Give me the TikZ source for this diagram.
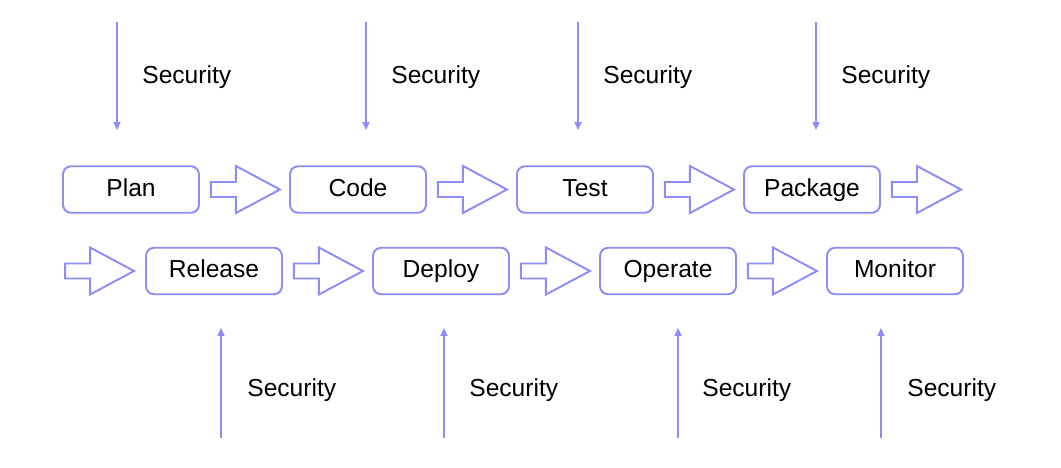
\documentclass[tikz,border=0pt]{standalone}
\usepackage{fontspec}
\setmainfont{Liberation Sans}
\usetikzlibrary{calc,arrows.meta}
\definecolor{lav}{RGB}{140,140,250}
\tikzset{
	stage/.style={draw=lav,line width=1.1pt,rounded corners=4.6pt,
		minimum width=2.72cm,minimum height=0.93cm,inner sep=0pt,
		text height=10.8pt,text depth=3pt,
		font=\fontsize{14}{17}\selectfont},
	flow/.style={draw=lav,line width=1.1pt,fill=white},
	sec/.style={draw=lav,line width=0.9pt,-{Triangle[length=4.5pt,width=4pt]}},
	seclabel/.style={anchor=west,inner sep=0pt,font=\fontsize{14}{17}\selectfont}
}
\begin{document}
\begin{tikzpicture}[x=0.02cm,y=-0.02cm]
	\useasboundingbox (0,0) rectangle (1061,467);
	% block arrow from a start point, 69 long
	\def\fl#1{
		\draw[flow] ($(#1)+(0,-7.5)$) -- ++(25,0) -- ++(0,-16) -- ++(44,23.5)
		-- ++(-44,23.5) -- ++(0,-16) -- ++(-25,0) -- cycle;
	}
	% top row
	\node[stage] (plan) at (131,189.5) {Plan};
	\node[stage] (code) at (358,189.5) {Code};
	\node[stage] (test) at (585,189.5) {Test};
	\node[stage] (package) at (812,189.5) {Package};
	% bottom row
	\node[stage] (release) at (214,271) {Release};
	\node[stage] (deploy) at (441,271) {Deploy};
	\node[stage] (operate) at (668,271) {Operate};
	\node[stage] (monitor) at (895,271) {Monitor};
	% flow arrows
	\coordinate (a1) at ($(plan.east)+(11,0)$);
	\coordinate (a2) at ($(code.east)+(11,0)$);
	\coordinate (a3) at ($(test.east)+(11,0)$);
	\coordinate (a4) at ($(package.east)+(11,0)$);
	\coordinate (b0) at ($(release.west)+(-80,0)$);
	\coordinate (b1) at ($(release.east)+(11,0)$);
	\coordinate (b2) at ($(deploy.east)+(11,0)$);
	\coordinate (b3) at ($(operate.east)+(11,0)$);
	\fl{a1}\fl{a2}\fl{a3}\fl{a4}
	\fl{b0}\fl{b1}\fl{b2}\fl{b3}
	% security, from above
	\foreach \x/\n in {117/s1,366/s2,578/s3,816/s4}{
		\coordinate (\n t) at (\x,22);
		\coordinate (\n b) at (\x,130);
		\draw[sec] (\n t) -- (\n b);
		\node[seclabel] (\n l) at (\x+25,77) {Security};
	}
	% security, from below
	\foreach \x/\d/\n in {221/26/u1,444/25/u2,678/24/u3,881/26/u4}{
		\coordinate (\n b) at (\x,438);
		\coordinate (\n t) at (\x,328);
		\draw[sec] (\n b) -- (\n t);
		\node[seclabel] (\n l) at (\x+\d,390) {Security};
	}
\end{tikzpicture}
\end{document}
